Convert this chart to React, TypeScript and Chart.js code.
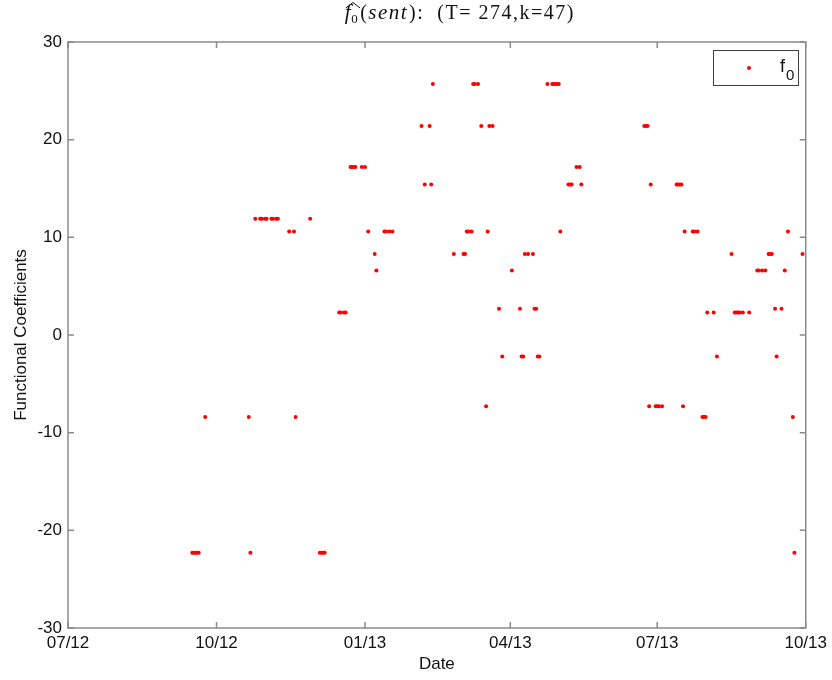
import React, { useEffect, useRef } from 'react';
import { Chart, registerables } from 'chart.js';

Chart.register(...registerables);

// x positions are days since 2012-07-01
const xTickDays = [0, 92, 184, 274, 365, 457];
const xTickLabels = ['07/12', '10/12', '01/13', '04/13', '07/13', '10/13'];
const yTickValues = [-30, -20, -10, 0, 10, 20, 30];

const sentDays = [
  77, 78, 79, 80, 81, 85, 112, 113, 116, 119, 120, 122, 123, 126, 127, 129, 130,
  137, 140, 141, 150, 156, 157, 158, 159, 168, 169, 171, 172, 175, 176, 177, 178,
  182, 184, 186, 190, 191, 196, 197, 199, 201, 219, 221, 224, 225, 226, 239, 245,
  246, 247, 248, 250, 251, 252, 254, 256, 259, 260, 261, 263, 267, 269, 275, 280,
  281, 282, 283, 285, 288, 289, 290, 291, 292, 297, 300, 301, 302, 303, 304, 305,
  310, 311, 312, 315, 317, 318, 357, 358, 359, 360, 361, 364, 365, 366, 368, 377,
  378, 379, 380, 381, 382, 387, 388, 390, 393, 394, 395, 396, 400, 402, 411, 413,
  414, 415, 416, 418, 422, 427, 428, 430, 432, 434, 435, 436, 438, 439, 442, 444,
  446, 449, 450, 455,
];

const f0Values = [
  -22.3, -22.3, -22.3, -22.3, -22.3, -8.4, -8.4, -22.3, 11.9, 11.9, 11.9, 11.9, 11.9, 11.9, 11.9, 11.9, 11.9,
  10.6, 10.6, -8.4, 11.9, -22.3, -22.3, -22.3, -22.3, 2.3, 2.3, 2.3, 2.3, 17.2, 17.2, 17.2, 17.2,
  17.2, 17.2, 10.6, 8.3, 6.6, 10.6, 10.6, 10.6, 10.6, 21.4, 15.4, 21.4, 15.4, 25.7, 8.3, 8.3,
  8.3, 10.6, 10.6, 10.6, 25.7, 25.7, 25.7, 21.4, -7.3, 10.6, 21.4, 21.4, 2.7, -2.2, 6.6, 2.7,
  -2.2, -2.2, 8.3, 8.3, 8.3, 2.7, 2.7, -2.2, -2.2, 25.7, 25.7, 25.7, 25.7, 25.7, 25.7, 10.6,
  15.4, 15.4, 15.4, 17.2, 17.2, 15.4, 21.4, 21.4, 21.4, -7.3, 15.4, -7.3, -7.3, -7.3, -7.3, 15.4,
  15.4, 15.4, 15.4, -7.3, 10.6, 10.6, 10.6, 10.6, -8.4, -8.4, -8.4, 2.3, 2.3, -2.2, 8.3, 2.3,
  2.3, 2.3, 2.3, 2.3, 2.3, 6.6, 6.6, 6.6, 6.6, 8.3, 8.3, 8.3, 2.7, -2.2, 2.7, 6.6,
  10.6, -8.4, -22.3, 8.3,
];

const SANS = '"Liberation Sans", Arial, sans-serif';
const SERIF = '"Liberation Serif", "Times New Roman", serif';

const framePlugin = {
  id: 'matlabFrame',
  beforeDatasetsDraw(chart: any) {
    const { ctx, chartArea: a, scales } = chart;
    ctx.save();
    ctx.strokeStyle = '#8a8a8a';
    ctx.lineWidth = 1.5;
    ctx.strokeRect(a.left, a.top, a.right - a.left, a.bottom - a.top);
    const L = 6;
    ctx.beginPath();
    for (const v of xTickDays) {
      const x = scales.x.getPixelForValue(v);
      ctx.moveTo(x, a.bottom);
      ctx.lineTo(x, a.bottom - L);
      ctx.moveTo(x, a.top);
      ctx.lineTo(x, a.top + L);
    }
    for (const v of yTickValues) {
      const y = scales.y.getPixelForValue(v);
      ctx.moveTo(a.left, y);
      ctx.lineTo(a.left + L, y);
      ctx.moveTo(a.right, y);
      ctx.lineTo(a.right - L, y);
    }
    ctx.stroke();
    ctx.restore();
  },
  afterDraw(chart: any) {
    const { ctx, chartArea: a } = chart;
    ctx.save();
    // axis titles
    ctx.fillStyle = '#111';
    ctx.font = `17px ${SANS}`;
    ctx.textAlign = 'center';
    ctx.textBaseline = 'middle';
    ctx.fillText('Date', (a.left + a.right) / 2, a.bottom + 36);
    ctx.save();
    ctx.translate(21.5, (a.top + a.bottom) / 2);
    ctx.rotate(-Math.PI / 2);
    ctx.fillText('Functional Coefficients', 0, 0);
    ctx.restore();

    // title: f-hat_0(sent): (T= 274,k=47)
    ctx.textAlign = 'left';
    ctx.textBaseline = 'alphabetic';
    (ctx as any).letterSpacing = '1.5px';
    const base = 19;
    const fIt = `italic 21px ${SERIF}`;
    const fRm = `20px ${SERIF}`;
    const fSub = `13px ${SERIF}`;
    const parts = [
      { t: 'f', f: fIt, dy: 0, pre: 0 },
      { t: '0', f: fSub, dy: 4, pre: -1 },
      { t: '(', f: fRm, dy: 0, pre: 1 },
      { t: 'sent', f: fIt, dy: 0, pre: 0 },
      { t: ')', f: fRm, dy: 0, pre: 1 },
      { t: ':  (T= 274,k=47)', f: fRm, dy: 0, pre: 0 },
    ];
    let total = 0;
    const widths: number[] = [];
    for (const p of parts) {
      ctx.font = p.f;
      const w = ctx.measureText(p.t).width + p.pre;
      widths.push(w);
      total += w;
    }
    let x = (a.left + a.right) / 2 + 23 - total / 2;
    const startX = x;
    parts.forEach((p, i) => {
      ctx.font = p.f;
      ctx.fillText(p.t, x + p.pre, base + p.dy);
      x += widths[i];
    });
    // hat over f_0
    ctx.strokeStyle = '#111';
    ctx.lineWidth = 1;
    ctx.beginPath();
    const hx0 = startX + 1;
    const hx1 = startX + widths[0] + widths[1] + 1;
    ctx.moveTo(hx0, 8);
    ctx.lineTo((hx0 + hx1) / 2, 2.5);
    ctx.lineTo(hx1, 8);
    ctx.stroke();
    (ctx as any).letterSpacing = '0px';

    // legend box
    const bw = 85;
    const bh = 35;
    const bx = Math.round(a.right - 8 - bw) + 0.5;
    const by = Math.round(a.top + 8) + 0.5;
    ctx.fillStyle = '#ffffff';
    ctx.fillRect(bx, by, bw, bh);
    ctx.strokeStyle = '#404040';
    ctx.lineWidth = 1;
    ctx.strokeRect(bx, by, bw, bh);
    ctx.fillStyle = '#ff0000';
    ctx.beginPath();
    ctx.arc(bx + 35.5, by + 17.5, 2, 0, Math.PI * 2);
    ctx.fill();
    ctx.fillStyle = '#111';
    ctx.font = `18px ${SANS}`;
    ctx.fillText('f', bx + 66.5, by + 21.5);
    ctx.font = `15px ${SANS}`;
    ctx.fillText('0', bx + 72.5, by + 29.5);
    ctx.restore();
  },
};

export default function App() {
  const canvasRef = useRef<HTMLCanvasElement | null>(null);

  useEffect(() => {
    document.body.style.margin = '0';
    const canvas = canvasRef.current;
    if (!canvas) return;
    const points = sentDays.map((d, i) => ({ x: d, y: f0Values[i] }));
    const chart = new Chart(canvas, {
      type: 'scatter',
      data: {
        datasets: [
          {
            label: 'f0',
            data: points,
            backgroundColor: '#ff0000',
            borderColor: '#ff0000',
            borderWidth: 0,
            pointRadius: 2,
            pointHoverRadius: 2,
          },
        ],
      },
      options: {
        animation: false,
        responsive: false,
        devicePixelRatio: 1,
        layout: { padding: { top: 42, right: 26, left: 0, bottom: 0 } },
        plugins: {
          legend: { display: false },
          tooltip: { enabled: false },
          title: { display: false },
        },
        scales: {
          x: {
            type: 'linear',
            min: xTickDays[0],
            max: xTickDays[xTickDays.length - 1],
            grid: { display: false, drawTicks: false, tickLength: 0 },
            border: { display: false },
            afterBuildTicks: (scale: any) => {
              scale.ticks = xTickDays.map((v) => ({ value: v }));
            },
            afterFit: (scale: any) => {
              scale.height = 52;
            },
            ticks: {
              autoSkip: false,
              maxRotation: 0,
              padding: 5,
              color: '#111',
              font: { family: SANS, size: 17 },
              callback: (v: any) => {
                const i = xTickDays.indexOf(Number(v));
                return i >= 0 ? xTickLabels[i] : '';
              },
            },
          },
          y: {
            type: 'linear',
            min: -30,
            max: 30,
            grid: { display: false, drawTicks: false, tickLength: 0 },
            border: { display: false },
            afterBuildTicks: (scale: any) => {
              scale.ticks = yTickValues.map((v) => ({ value: v }));
            },
            afterFit: (scale: any) => {
              scale.width = 68;
            },
            ticks: {
              padding: 6,
              color: '#111',
              font: { family: SANS, size: 17 },
              callback: (v: any) => String(v),
            },
          },
        },
      },
      plugins: [framePlugin],
    });
    return () => chart.destroy();
  }, []);

  return (
    <div style={{ width: 832, height: 680, background: '#fff' }}>
      <canvas ref={canvasRef} width={832} height={680} style={{ display: 'block' }} />
    </div>
  );
}
